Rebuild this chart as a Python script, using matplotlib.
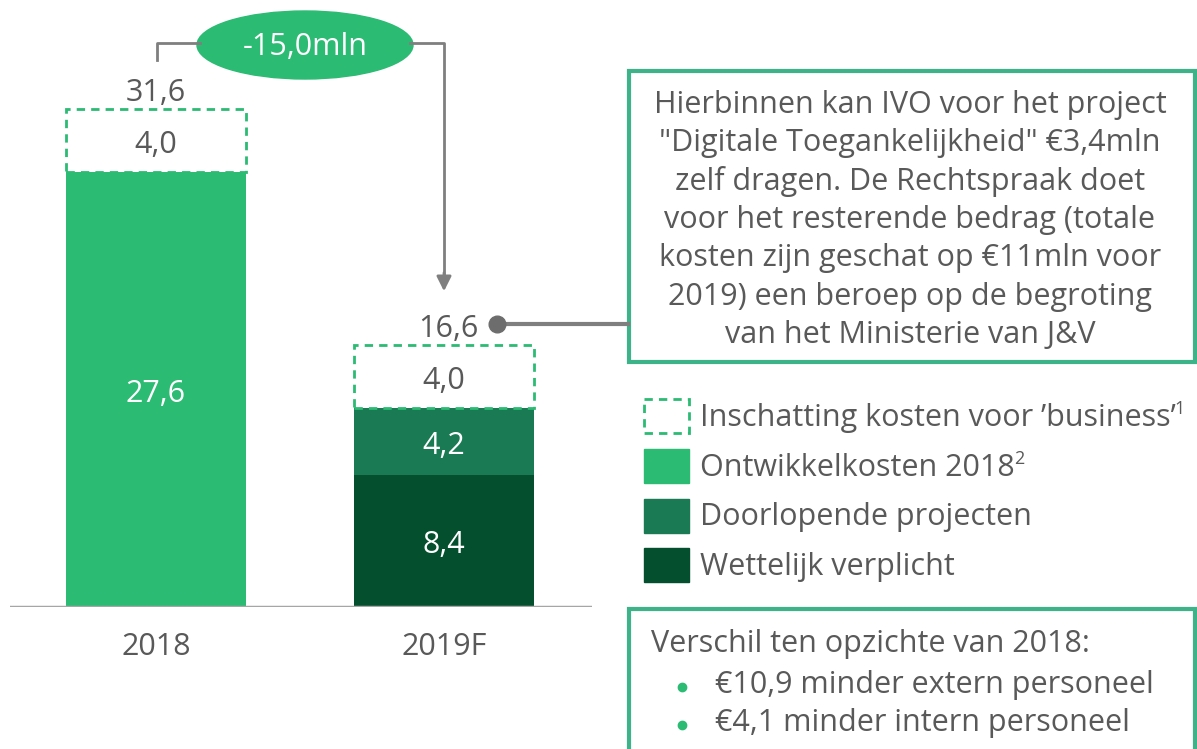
import numpy as np
import matplotlib.pyplot as plt
from matplotlib.patches import Ellipse, Rectangle

plt.rcParams['font.family'] = ['Open Sans', 'DejaVu Sans']

# Data (mln euro)
years = ['2018', '2019F']
wettelijk = [0.0, 8.4]
doorlopend = [0.0, 4.2]
ontwikkel = [27.6, 0.0]
business = [4.0, 4.0]
totals = [31.6, 16.6]
verschil = '-15,0mln'

legend_labels = ["Inschatting kosten voor \u2019business\u2019", 'Ontwikkelkosten 2018', 'Doorlopende projecten', 'Wettelijk verplicht']
legend_sup = ['1', '2', '', '']

c_light = '#2bbb73'
c_mid = '#1a7a54'
c_dark = '#044f2e'
c_text = '#595959'
c_box = '#3db38a'
c_line = '#7f7f7f'

W, H = 1197, 749
fig = plt.figure(figsize=(W / 100, H / 100), dpi=100)

# bar axes: baseline at y=607px, 15.76 px per mln
base_px, ppu = 607, 15.76
ax = fig.add_axes([10 / W, (H - base_px) / H, 582 / W, base_px / H])
ax.set_ylim(0, base_px / ppu)
ax.set_xlim(-146 / 288, 1 + 148 / 288)
x = np.arange(len(years))
bw = 180 / 288

fmt = lambda v: f'{v:.1f}'.replace('.', ',')

ax.bar(x, wettelijk, bw, color=c_dark)
ax.bar(x, doorlopend, bw, bottom=wettelijk, color=c_mid)
b1 = np.array(wettelijk) + np.array(doorlopend)
ax.bar(x, ontwikkel, bw, bottom=b1, color=c_light)
b2 = b1 + np.array(ontwikkel)
ax.bar(x, business, bw, bottom=b2, facecolor='none', edgecolor=c_light,
       linestyle=(0, (3, 2.2)), linewidth=2)

fs = 22


def label(xp, yp, s, color, ha='center'):
    # nudge down a little so the digits (not the comma) sit in the middle
    ax.annotate(s, (xp, yp), xytext=(0, -3), textcoords='offset points',
                ha=ha, va='center', color=color, fontsize=fs)


for i in range(len(years)):
    if wettelijk[i]:
        label(x[i], wettelijk[i] / 2, fmt(wettelijk[i]), 'white')
    if doorlopend[i]:
        label(x[i], wettelijk[i] + doorlopend[i] / 2, fmt(doorlopend[i]), 'white')
    if ontwikkel[i]:
        label(x[i], b1[i] + ontwikkel[i] / 2, fmt(ontwikkel[i]), 'white')
    label(x[i], b2[i] + business[i] / 2, fmt(business[i]), c_text)

label(x[0], totals[0] + 1.3, fmt(totals[0]), c_text)
label(x[1] + 0.12, totals[1] + 1.3, fmt(totals[1]), c_text, ha='right')

ax.axhline(0, color='#a6a6a6', linewidth=2.5)
for s in ax.spines.values():
    s.set_visible(False)
ax.set_yticks([])
ax.set_xticks(x)
ax.set_xticklabels(years, fontsize=fs, color=c_text)
ax.tick_params(axis='x', length=0, pad=18)

# overlay in pixel coordinates for callouts and legend
ov = fig.add_axes([0, 0, 1, 1])
ov.set_xlim(0, W)
ov.set_ylim(H, 0)
ov.axis('off')

# difference bracket
ov.plot([157, 157, 200], [60, 43, 43], color=c_line, lw=2)
ov.plot([410, 444, 444], [43, 43, 280], color=c_line, lw=2)
ov.annotate('', xy=(444, 294), xytext=(444, 270),
            arrowprops=dict(arrowstyle='-|>', color=c_line, lw=2, mutation_scale=22))
ov.add_patch(Ellipse((305, 45), 216, 68, color=c_light))
ov.text(305, 47, verschil, ha='center', va='center', color='white', fontsize=fs)

# connector to text box
ov.plot([497, 628], [324, 324], color=c_line, lw=3)
ov.plot(497, 324, 'o', color='#6d6d6d', ms=12)

# top text box
ov.add_patch(Rectangle((629, 71), 566, 291, facecolor='white', edgecolor=c_box, lw=3))
box_lines = ['Hierbinnen kan IVO voor het project',
             '"Digitale Toegankelijkheid" \u20ac3,4mln',
             'zelf dragen. De Rechtspraak doet',
             'voor het resterende bedrag (totale',
             'kosten zijn geschat op \u20ac11mln voor',
             '2019) een beroep op de begroting',
             'van het Ministerie van J&V']
for k, t in enumerate(box_lines):
    ov.text(910, 105 + k * 38.3, t, ha='center', va='center', color=c_text, fontsize=fs)

# legend
ov.add_patch(Rectangle((644, 399), 45, 34, facecolor='none', edgecolor=c_light,
                       linestyle=(0, (3, 2.2)), lw=2))
for k, c in enumerate([c_light, c_mid, c_dark]):
    ov.add_patch(Rectangle((644, 449 + k * 49.5), 45, 34, color=c))
fig.canvas.draw()
for k, t in enumerate(legend_labels):
    y = 418 + k * 49.5
    tx = ov.text(700, y, t, ha='left', va='center', color=c_text, fontsize=fs)
    if legend_sup[k]:
        bb = tx.get_window_extent(renderer=fig.canvas.get_renderer())
        ov.text(bb.x1 - 1, y - 9, legend_sup[k], ha='left', va='center',
                color=c_text, fontsize=13)

# bottom text box
ov.add_patch(Rectangle((629, 609), 566, 160, facecolor='white', edgecolor=c_box, lw=3, clip_on=False))
ov.text(651, 644, 'Verschil ten opzichte van 2018:', ha='left', va='center', color=c_text, fontsize=fs)
for k, t in enumerate(['\u20ac10,9 minder extern personeel', '\u20ac4,1 minder intern personeel']):
    y = 685 + k * 37.5
    ov.plot(682, y + 2, 'o', color=c_light, ms=6)
    ov.text(715, y, t, ha='left', va='center', color=c_text, fontsize=fs)

fig.savefig('out.png', dpi=100)
